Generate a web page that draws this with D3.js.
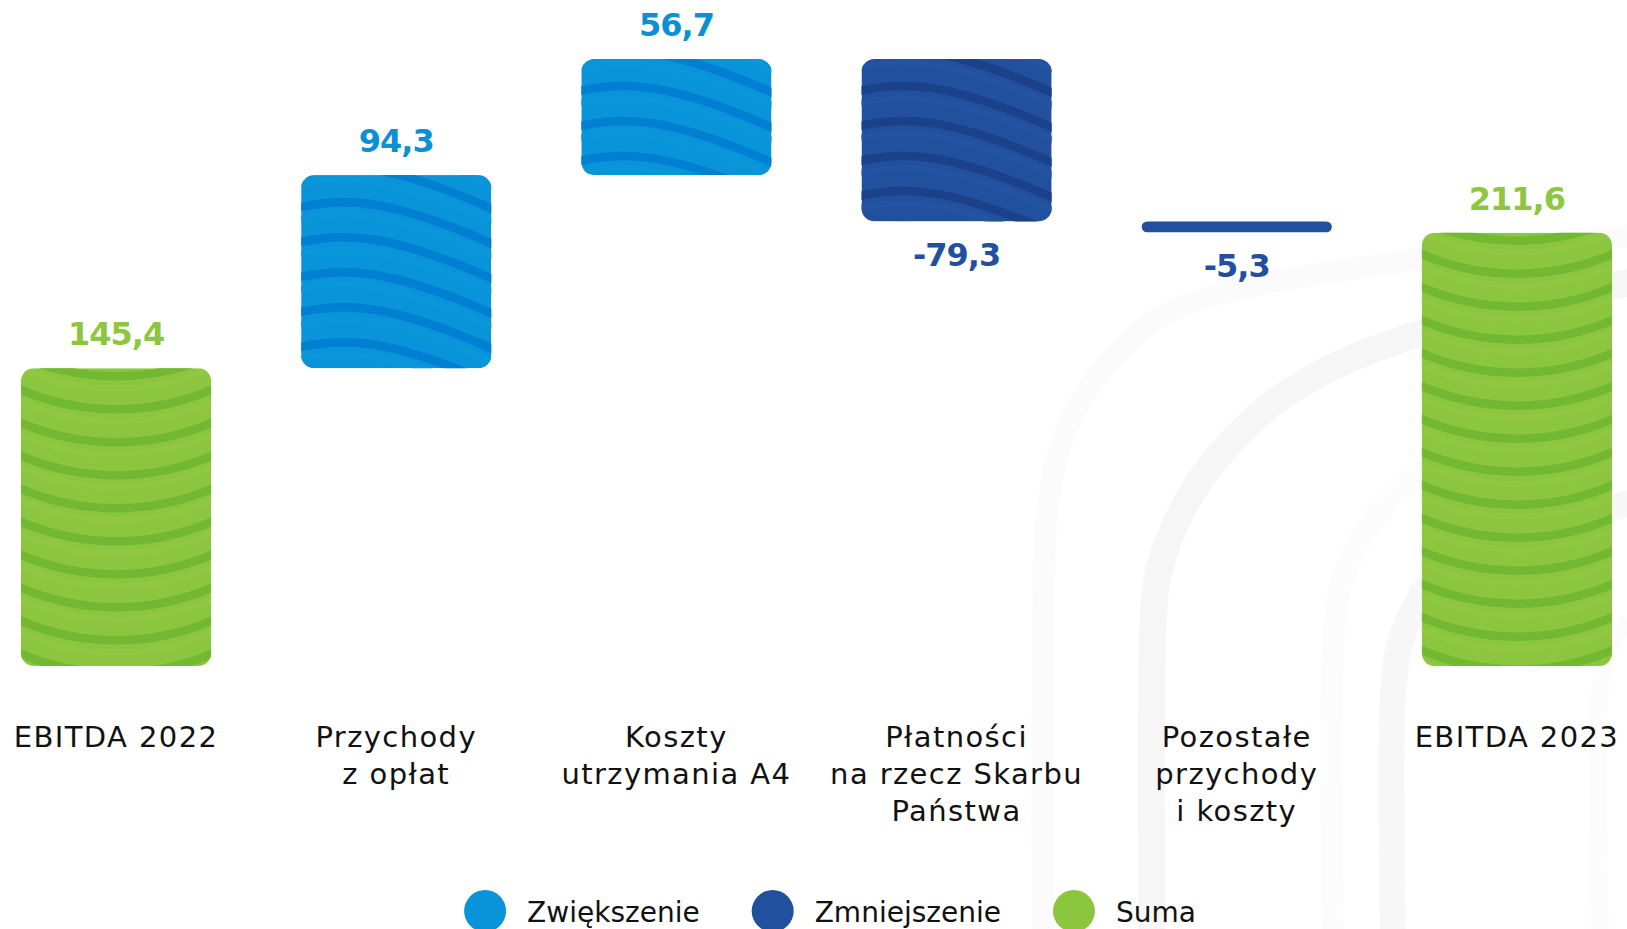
<!DOCTYPE html>
<html>
<head>
<meta charset="utf-8">
<title>EBITDA 2022 - 2023</title>
<style>
  html, body { margin:0; padding:0; background:#fff; }
  svg { display:block; }
  .cat { font-family: "DejaVu Sans", sans-serif; font-size: 29px; letter-spacing:1.4px; fill:#111; }
  .val { font-family: "DejaVu Sans", sans-serif; font-weight: bold; font-size: 32px; letter-spacing:-1px; }
  .leg { font-family: "DejaVu Sans", sans-serif; font-size: 28px; fill:#111; }
</style>
<script src="https://cdn.jsdelivr.net/npm/d3@7"></script>
</head>
<body>
<svg id="chart" width="1627" height="929"></svg>
<script>

// data
var categories   = ["EBITDA 2022", "Przychody\nz opłat", "Koszty\nutrzymania A4",
                    "Płatności\nna rzecz Skarbu\nPaństwa", "Pozostałe\nprzychody\ni koszty", "EBITDA 2023"];
var values       = [145.4, 94.3, 56.7, -79.3, -5.3, 211.6];
var kinds        = ["sum", "up", "up", "down", "down", "sum"];
var valueLabels  = ["145,4", "94,3", "56,7", "-79,3", "-5,3", "211,6"];
var legendLabels = ["Zwiększenie", "Zmniejszenie", "Suma"];
var legendKinds  = ["up", "down", "sum"];

var colors = {
    up:   {base:'#0993d8', dark:'#007fd3', light:'#0a97da', text:'#0b8fd5'},
    down: {base:'#21509f', dark:'#1c418b', light:'#2353a2', text:'#22509f'},
    sum:  {base:'#8cc63f', dark:'#73b832', light:'#90c844', text:'#8dc63f'}
};

var svg = d3.select('#chart');

// faint background arches (decoration)
var arches = [
    {c:'#fbfbfb', w:22, p:[[1043,940],[1043,663],[1047,513],[1060,447],[1083,397],[1117,353],[1150,323],[1200,300],[1267,283],[1400,262],[1640,235]]},
    {c:'#f6f6f6', w:27, p:[[1152,940],[1152,663],[1157,580],[1173,530],[1200,480],[1233,440],[1273,403],[1333,367],[1400,340],[1500,312],[1640,280]]},
    {c:'#fcfcfc', w:22, p:[[1333,940],[1333,650],[1340,590],[1360,540],[1400,490],[1450,455]]},
    {c:'#f7f7f7', w:26, p:[[1393,940],[1393,693],[1400,643],[1417,603],[1433,580],[1480,552],[1640,500]]},
    {c:'#fcfcfc', w:18, p:[[1600,940],[1600,690],[1608,650],[1630,620]]}
];
var archLine = d3.line().curve(d3.curveCatmullRom);
svg.append('g').selectAll('path').data(arches).join('path')
    .attr('d', function(d){ return archLine(d.p) })
    .attr('fill', 'none')
    .attr('stroke', function(d){ return d.c })
    .attr('stroke-width', function(d){ return d.w });

// waterfall steps
var running = 0;
var steps = values.map(function(v, i){
    var s;
    if(kinds[i] == 'sum'){ s = {start:0, end:v}; running = v; }
    else { s = {start:running, end:running + v}; running += v; }
    s.i = i; s.kind = kinds[i]; s.value = v; s.label = valueLabels[i]; s.cat = categories[i];
    return s;
});

var x = d3.scaleBand()
    .domain(d3.range(categories.length))
    .range([21, 1612])
    .paddingInner(0.3213)
    .paddingOuter(0);

var y = d3.scaleLinear()
    .domain([0, d3.max(steps, function(d){ return Math.max(d.start, d.end) })])
    .range([666, 59]);

var defs = svg.append('defs');
var bars = svg.append('g');

steps.forEach(function(d){
    var x0 = x(d.i), w = x.bandwidth(), x1 = x0 + w;
    var top = y(Math.max(d.start, d.end)), bot = y(Math.min(d.start, d.end));
    var h = bot - top;
    var col = colors[d.kind];
    d.top = top; d.bot = bot;

    if(h < 20){
        // thin step drawn as a rounded line
        bars.append('rect')
            .attr('x', x0).attr('y', top).attr('width', w).attr('height', h)
            .attr('rx', h/2).attr('fill', col.base);
        return;
    }

    var id = 'clip' + d.i;
    defs.append('clipPath').attr('id', id)
        .append('rect')
        .attr('x', x0).attr('y', top).attr('width', w).attr('height', h).attr('rx', 13);

    var g = bars.append('g').attr('clip-path', 'url(#' + id + ')');
    g.append('rect').attr('x', x0).attr('y', top).attr('width', w).attr('height', h).attr('fill', col.base);

    // wavy stripes
    var c = w + 12, sag = 22, R = (c*c/4 + sag*sag) / (2*sag);
    var gap = d.kind == 'sum' ? 33 : 35;
    var offs = d3.range(top - 80, bot + 40, gap);
    function wave(o){
        if(d.kind == 'sum')
            return 'M' + (x0-6) + ',' + o + ' A' + R + ',' + R + ' 0 0 0 ' + (x1+6) + ',' + o;
        return 'M' + (x0-6) + ',' + (o + 8) + ' C' + (x0 + w*0.2) + ',' + (o - 3) + ' ' + (x0 + w*0.45) + ',' + (o - 4) + ' ' + (x1+6) + ',' + (o + 46);
    }
    g.selectAll('path.light').data(offs).join('path')
        .attr('class', 'light')
        .attr('d', function(o){ return wave(o + 12) })
        .attr('fill', 'none').attr('stroke', col.light).attr('stroke-width', 6);
    g.selectAll('path.dark').data(offs).join('path')
        .attr('class', 'dark')
        .attr('d', wave)
        .attr('fill', 'none').attr('stroke', col.dark).attr('stroke-width', 8.5);
});

// value labels
svg.append('g').selectAll('text').data(steps).join('text')
    .attr('class', 'val')
    .attr('x', function(d){ return x(d.i) + x.bandwidth()/2 })
    .attr('y', function(d){ return d.value < 0 ? d.bot + 45 : d.top - 23 })
    .attr('text-anchor', 'middle')
    .attr('fill', function(d){ return colors[d.kind].text })
    .text(function(d){ return d.label });

// category labels
var cats = svg.append('g').selectAll('text').data(steps).join('text')
    .attr('class', 'cat')
    .attr('text-anchor', 'middle')
    .attr('x', function(d){ return x(d.i) + x.bandwidth()/2 })
    .attr('y', 747);
cats.selectAll('tspan').data(function(d){ return d.cat.split('\n').map(function(t){ return {t:t, x:x(d.i) + x.bandwidth()/2} }) })
    .join('tspan')
    .attr('x', function(t){ return t.x })
    .attr('dy', function(t, j){ return j ? 37 : 0 })
    .text(function(t){ return t.t });

// legend
var legend = svg.append('g');
var lx = 0;
legendLabels.forEach(function(l, i){
    var item = legend.append('g').attr('transform', 'translate(' + lx + ',0)');
    item.append('circle').attr('cx', 21).attr('cy', 911).attr('r', 21).attr('fill', colors[legendKinds[i]].base);
    var t = item.append('text').attr('class', 'leg').attr('x', 63).attr('y', 922).text(l);
    lx += 63 + t.node().getComputedTextLength() + 52;
});
lx -= 52;
legend.attr('transform', 'translate(' + (830 - lx/2) + ',0)');

</script>
</body>
</html>
